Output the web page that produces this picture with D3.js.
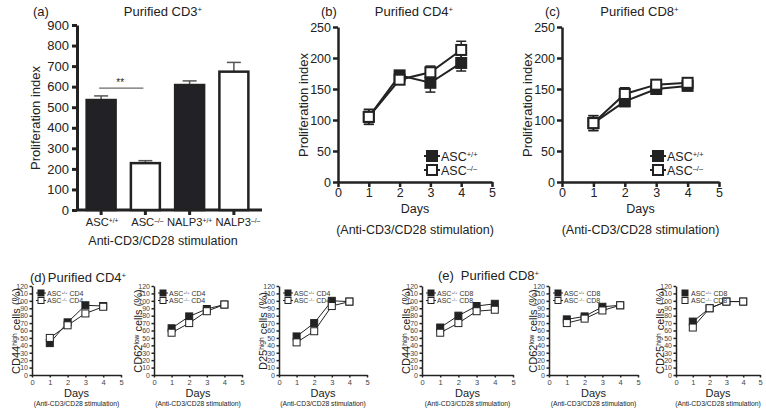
<!DOCTYPE html>
<html><head><meta charset="utf-8">
<script src="https://cdn.jsdelivr.net/npm/d3@7"></script>
<style>
body{margin:0;background:#fff;}
svg{font-family:"Liberation Sans",Arial,Helvetica,sans-serif;}
</style></head>
<body><svg id="c" width="766" height="408"></svg>
<script>
// ---- data ----
const aGroups = ["ASC", "ASC", "NALP3", "NALP3"];
const aGenotypes = ["+/+", "\u2013/\u2013", "+/+", "\u2013/\u2013"];
const aValues = [535, 228, 608, 673];
const aErrors = [20, 12, 20, 45];
const aTicks = [0,100,200,300,400,500,600,700,800,900];

const days = [1, 2, 3, 4];
const dayTicks = [0, 1, 2, 3, 4, 5];
const profTicks = [0, 50, 100, 150, 200, 250];

const bWT = [105, 172, 160, 192];
const bWTerr = [12, 6, 15, 13];
const bKO = [105, 165, 177, 213];
const bKOerr = [12, 5, 10, 14];

const cWT = [95, 130, 150, 155];
const cWTerr = [12, 8, 6, 5];
const cKO = [95, 142, 157, 160];
const cKOerr = [12, 10, 6, 5];

const pctTicks = [0,10,20,30,40,50,60,70,80,90,100,110,120];
const d44WT = [43, 71, 94, 93];
const d44KO = [50, 67, 83, 92];
const d62WT = [63, 79, 89, 95];
const d62KO = [57, 70, 86, 95];
const d25WT = [52, 70, 100, 99];
const d25KO = [44, 59, 93, 99];
const e44WT = [64, 80, 93, 96];
const e44KO = [57, 70, 86, 88];
const e62WT = [75, 79, 92, 94];
const e62KO = [70, 76, 87, 94];
const e25WT = [72, 90, 99, 99];
const e25KO = [64, 90, 99, 99];

const svg = d3.select("#c");
const ink = "#222";
const intFmt = d3.format("d");

function supText(g, x, y, parts, size, anchor, rotate) {
  const t = g.append("text").attr("x", x).attr("y", y).attr("font-size", size)
    .attr("text-anchor", anchor || "middle").attr("fill", ink);
  if (rotate) t.attr("transform", `rotate(-90,${x},${y})`);
  parts.forEach(p => {
    const ts = t.append("tspan").text(p.t);
    if (p.sup) ts.attr("baseline-shift", "super").attr("font-size", size * 0.6);
  });
  return t;
}
function styleAxis(g, w, fs) {
  g.selectAll("path").attr("stroke", ink).attr("stroke-width", w);
  g.selectAll("line").attr("stroke", ink).attr("stroke-width", w);
  g.selectAll("text").attr("font-size", fs).attr("fill", ink)
    .attr("font-family", '"Liberation Sans",Arial,sans-serif');
}

// ---- panel (a) ----
(function(){
  const x0 = 77, x1 = 262, yT = 25, yB = 210;
  const y = d3.scaleLinear().domain([0, 900]).range([yB, yT]);
  const x = d3.scaleBand().domain(d3.range(4)).range([x0 + 2, x1 - 6]).paddingInner(0.3).paddingOuter(0.15);
  const g = svg.append("g");
  const ya = g.append("g").attr("transform", `translate(${x0},0)`)
    .call(d3.axisLeft(y).tickValues(aTicks).tickSize(5).tickSizeOuter(0).tickPadding(3));
  styleAxis(ya, 3, 13);
  const xa = g.append("g").attr("transform", `translate(0,${yB})`)
    .call(d3.axisBottom(x).tickSize(5).tickSizeOuter(0).tickFormat(""));
  xa.select("path").attr("d", `M${x0},0H${x1}`);
  styleAxis(xa, 3, 12);
  aValues.forEach((v, i) => {
    const cx = x(i) + x.bandwidth() / 2;
    g.append("line").attr("x1", cx).attr("x2", cx).attr("y1", y(v)).attr("y2", y(v + aErrors[i]))
      .attr("stroke", "#555").attr("stroke-width", 1.5);
    g.append("line").attr("x1", cx - 7).attr("x2", cx + 7).attr("y1", y(v + aErrors[i])).attr("y2", y(v + aErrors[i]))
      .attr("stroke", "#555").attr("stroke-width", 1.5);
  });
  g.selectAll("rect.bar").data(aValues).enter().append("rect")
    .attr("x", (d, i) => x(i) + 1).attr("width", x.bandwidth() - 2)
    .attr("y", d => y(d)).attr("height", d => yB - y(d))
    .attr("fill", (d, i) => i % 2 === 0 ? "#222226" : "#fff")
    .attr("stroke", ink).attr("stroke-width", 2.5);
  const c0 = x(0) + x.bandwidth() / 2, c1 = x(1) + x.bandwidth() / 2;
  g.append("line").attr("x1", c0 - 2).attr("x2", c1 - 2).attr("y1", y(593)).attr("y2", y(593))
    .attr("stroke", "#444").attr("stroke-width", 1);
  g.append("text").attr("x", (c0 + c1) / 2 - 3).attr("y", y(593) - 2).attr("text-anchor", "middle")
    .attr("font-size", 10).attr("fill", ink).text("**");
  const nudge = [1, 2, 0, 4];
  aGroups.forEach((n, i) => {
    supText(g, x(i) + x.bandwidth() / 2 + nudge[i], 226, [{t: n}, {t: aGenotypes[i], sup: true}], 11.2, "middle");
  });
  g.append("text").attr("x", 163).attr("y", 245).attr("text-anchor", "middle").attr("font-size", 12.5)
    .attr("fill", ink).text("Anti-CD3/CD28 stimulation");
  g.append("text").attr("x", 33).attr("y", 16).attr("font-size", 13).attr("fill", ink).text("(a)");
  supText(g, 163, 16, [{t: "Purified CD3"}, {t: "+", sup: true}], 13, "middle");
  g.append("text").attr("transform", `translate(40,118) rotate(-90)`).attr("text-anchor", "middle")
    .attr("font-size", 13).attr("fill", ink).text("Proliferation index");
})();

// ---- panels (b), (c) ----
function lineBig(x0, x1, tag, title, wt, wtErr, ko, koErr, legX) {
  const yT = 27, yB = 182;
  const x = d3.scaleLinear().domain([0, 5]).range([x0, x1]);
  const y = d3.scaleLinear().domain([0, 250]).range([yB, yT]);
  const g = svg.append("g");
  const ya = g.append("g").attr("transform", `translate(${x0},0)`)
    .call(d3.axisLeft(y).tickValues(profTicks).tickSize(5).tickSizeOuter(0).tickPadding(2));
  styleAxis(ya, 2.5, 12.5);
  const xa = g.append("g").attr("transform", `translate(0,${yB})`)
    .call(d3.axisBottom(x).tickValues(dayTicks).tickFormat(intFmt).tickSize(5).tickSizeOuter(0).tickPadding(1));
  styleAxis(xa, 2.5, 12.5);
  const line = d3.line().x((d, i) => x(days[i])).y(d => y(d));
  [[wt, wtErr], [ko, koErr]].forEach(([vals, errs]) => {
    vals.forEach((v, i) => {
      const cx = x(days[i]);
      g.append("line").attr("x1", cx).attr("x2", cx).attr("y1", y(v - errs[i])).attr("y2", y(v + errs[i]))
        .attr("stroke", ink).attr("stroke-width", 1.5);
      [v - errs[i], v + errs[i]].forEach(e => g.append("line").attr("x1", cx - 5).attr("x2", cx + 5)
        .attr("y1", y(e)).attr("y2", y(e)).attr("stroke", ink).attr("stroke-width", 1.5));
    });
  });
  [wt, ko].forEach(vals => {
    g.append("path").attr("d", line(vals)).attr("fill", "none").attr("stroke", ink).attr("stroke-width", 2);
  });
  [[wt, "#222"], [ko, "#fff"]].forEach(([vals, fill]) => {
    g.selectAll(null).data(vals).enter().append("rect")
      .attr("x", (d, i) => x(days[i]) - 5).attr("y", d => y(d) - 5).attr("width", 10).attr("height", 10)
      .attr("fill", fill).attr("stroke", ink).attr("stroke-width", 2);
  });
  [["+/+", "#222", 156], ["\u2013/\u2013", "#fff", 170]].forEach(([s, fill, ly]) => {
    g.append("line").attr("x1", legX - 8).attr("x2", legX + 8).attr("y1", ly).attr("y2", ly)
      .attr("stroke", ink).attr("stroke-width", 2);
    g.append("rect").attr("x", legX - 5).attr("y", ly - 5).attr("width", 10).attr("height", 10)
      .attr("fill", fill).attr("stroke", ink).attr("stroke-width", 2);
    supText(g, legX + 9, ly + 4.5, [{t: "ASC"}, {t: s, sup: true}], 12.5, "start");
  });
  const cx = (x0 + x1) / 2;
  g.append("text").attr("x", cx).attr("y", 213).attr("text-anchor", "middle").attr("font-size", 12.5)
    .attr("fill", ink).text("Days");
  g.append("text").attr("x", cx).attr("y", 234).attr("text-anchor", "middle").attr("font-size", 12.5)
    .attr("fill", ink).text("(Anti-CD3/CD28 stimulation)");
  g.append("text").attr("x", x0 - 17).attr("y", 16).attr("font-size", 13).attr("fill", ink).text(tag);
  supText(g, cx - 1, 16, [{t: title}, {t: "+", sup: true}], 13, "middle");
  g.append("text").attr("transform", `translate(${x0 - 30},105) rotate(-90)`).attr("text-anchor", "middle")
    .attr("font-size", 13).attr("fill", ink).text("Proliferation index");
}
lineBig(338, 492, "(b)", "Purified CD4", bWT, bWTerr, bKO, bKOerr, 432);
lineBig(562, 719, "(c)", "Purified CD8", cWT, cWTerr, cKO, cKOerr, 658);

// ---- small panels (d), (e) ----
function smallPanel(x0, x1, marker, sup, cell, wt, ko, withLines) {
  const yT = 286, yB = 375;
  const x = d3.scaleLinear().domain([0, 5]).range([x0, x1]);
  const y = d3.scaleLinear().domain([0, 120]).range([yB, yT]);
  const g = svg.append("g");
  const ya = g.append("g").attr("transform", `translate(${x0},0)`)
    .call(d3.axisLeft(y).tickValues(pctTicks).tickSize(2.5).tickSizeOuter(0).tickPadding(1.5));
  styleAxis(ya, 1.5, 7);
  const xa = g.append("g").attr("transform", `translate(0,${yB})`)
    .call(d3.axisBottom(x).tickValues(dayTicks).tickFormat(intFmt).tickSize(2.5).tickSizeOuter(0).tickPadding(2));
  styleAxis(xa, 1.5, 7.5);
  xa.selectAll("text").attr("fill", "#444");
  ya.selectAll("text").attr("fill", "#444");
  const line = d3.line().x((d, i) => x(days[i])).y(d => y(d));
  [wt, ko].forEach(vals => g.append("path").attr("d", line(vals)).attr("fill", "none")
    .attr("stroke", ink).attr("stroke-width", 1));
  [[wt, "#222"], [ko, "#fff"]].forEach(([vals, fill]) => {
    g.selectAll(null).data(vals).enter().append("rect")
      .attr("x", (d, i) => x(days[i]) - 3.5).attr("y", d => y(d) - 3.5).attr("width", 7).attr("height", 7)
      .attr("fill", fill).attr("stroke", ink).attr("stroke-width", 1);
  });
  [["+/+", "#222", 293], ["\u2013/\u2013", "#fff", 300.5]].forEach(([s, fill, ly]) => {
    const lx = x0 + 9;
    if (withLines) g.append("line").attr("x1", lx - 5).attr("x2", lx + 5).attr("y1", ly).attr("y2", ly)
      .attr("stroke", ink).attr("stroke-width", 1);
    g.append("rect").attr("x", lx - 3).attr("y", ly - 3).attr("width", 6).attr("height", 6)
      .attr("fill", fill).attr("stroke", ink).attr("stroke-width", 1);
    supText(g, lx + 6, ly + 2.5, [{t: "ASC"}, {t: s, sup: true}, {t: " " + cell}], 7, "start")
      .attr("fill", "#333");
  });
  const cx = (x0 + x1) / 2;
  g.append("text").attr("x", cx).attr("y", 397).attr("text-anchor", "middle").attr("font-size", 11)
    .attr("fill", ink).text("Days");
  g.append("text").attr("x", cx).attr("y", 406).attr("text-anchor", "middle").attr("font-size", 6.8)
    .attr("fill", ink).text("(Anti-CD3/CD28 stimulation)");
  supText(g, x0 - 12, 331, [{t: marker}, {t: sup, sup: true}, {t: " cells (%)"}], 11, "middle", true);
}
smallPanel(32, 121, "CD44", "high", "CD4", d44WT, d44KO, true);
smallPanel(154, 242, "CD62", "low", "CD4", d62WT, d62KO, true);
smallPanel(279, 367, "D25", "high", "CD4", d25WT, d25KO, true);
smallPanel(422, 513, "CD44", "high", "CD8", e44WT, e44KO, true);
smallPanel(549, 638, "CD62", "low", "CD8", e62WT, e62KO, true);
smallPanel(676, 760, "CD25", "high", "CD8", e25WT, e25KO, false);

svg.append("text").attr("x", 30).attr("y", 282).attr("font-size", 13).attr("fill", ink).text("(d)");
supText(svg, 87, 282, [{t: "Purified CD4"}, {t: "+", sup: true}], 13, "middle");
svg.append("text").attr("x", 438).attr("y", 280).attr("font-size", 13).attr("fill", ink).text("(e)");
supText(svg, 500, 280, [{t: "Purified CD8"}, {t: "+", sup: true}], 13, "middle");
</script></body></html>
